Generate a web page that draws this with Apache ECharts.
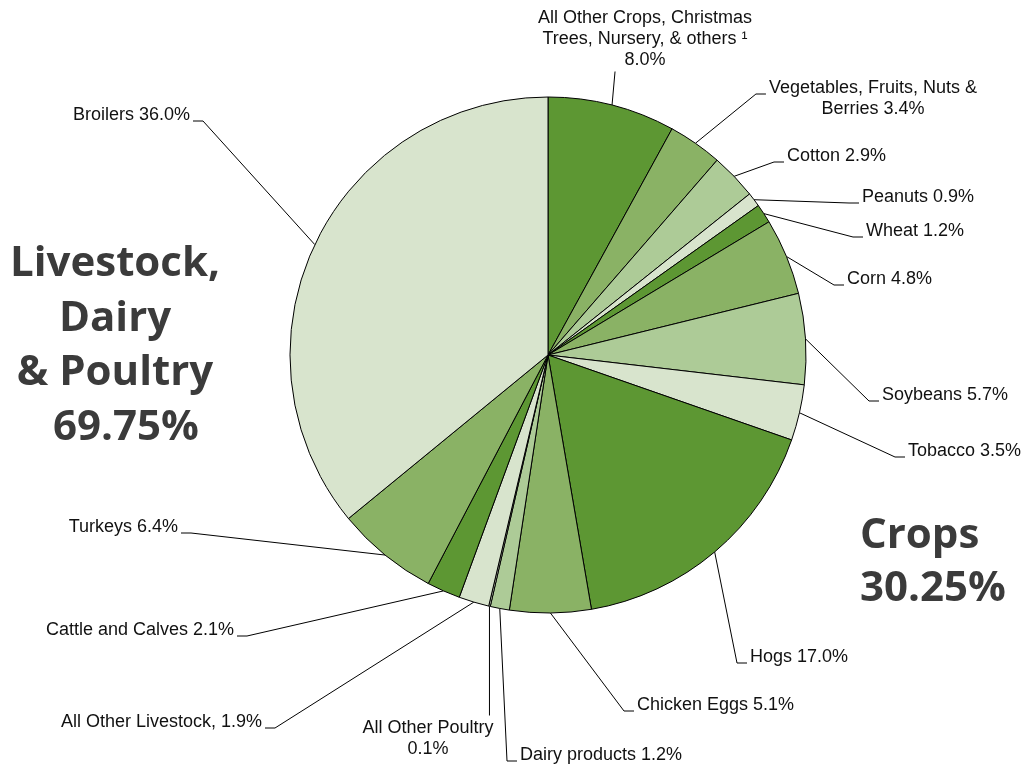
<!DOCTYPE html>
<html><head><meta charset="utf-8">
<script src="https://cdn.jsdelivr.net/npm/echarts@6/dist/echarts.min.js"></script>
<style>html,body{margin:0;padding:0;background:#fff}#c{width:1031px;height:769px}</style>
</head><body><div id="c"></div>
<script>
// ---- data ----
const categories = ['All Other Crops, Christmas Trees, Nursery, & others', 'Vegetables, Fruits, Nuts & Berries', 'Cotton', 'Peanuts', 'Wheat', 'Corn', 'Soybeans', 'Tobacco', 'Hogs', 'Chicken Eggs', 'Dairy products', 'All Other Poultry', 'All Other Livestock', 'Cattle and Calves', 'Turkeys', 'Broilers'];
const shares = [8.0, 3.4, 2.9, 0.9, 1.2, 4.8, 5.7, 3.5, 17.0, 5.1, 1.2, 0.1, 1.9, 2.1, 6.4, 36.0];
const labelTemplates = [
  'All Other Crops, Christmas\nTrees, Nursery, & others \u00b9\n{v}%',
  'Vegetables, Fruits, Nuts &\nBerries {v}%',
  'Cotton {v}%', 'Peanuts {v}%', 'Wheat {v}%', 'Corn {v}%', 'Soybeans {v}%', 'Tobacco {v}%',
  'Hogs {v}%', 'Chicken Eggs {v}%', 'Dairy products {v}%', 'All Other Poultry\n{v}%',
  'All Other Livestock, {v}%', 'Cattle and Calves {v}%', 'Turkeys {v}%', 'Broilers {v}%'
];
const groupNames = ['Livestock,\nDairy\n& Poultry', 'Crops'];
const groupTotals = [69.75, 30.25];

// ---- styles / layout (not data) ----
const shades = ['#5d9733', '#8ab265', '#adcb97', '#d8e4cd'];
const shadeIndex = [0, 1, 2, 3, 0, 1, 2, 3, 0, 1, 2, 3, 3, 0, 1, 3];
// label anchor: x, y = centre of first text line, align, side where leader attaches
const labelPos = [
  {x: 645, y: 18, align: 'center', side: 'bottom'},
  {x: 873, y: 88, align: 'center', side: 'left'},
  {x: 787, y: 156, align: 'left', side: 'left'},
  {x: 862, y: 197, align: 'left', side: 'left'},
  {x: 866, y: 231, align: 'left', side: 'left'},
  {x: 847, y: 279, align: 'left', side: 'left'},
  {x: 882, y: 395, align: 'left', side: 'left'},
  {x: 908, y: 451, align: 'left', side: 'left'},
  {x: 750, y: 657, align: 'left', side: 'left'},
  {x: 637, y: 705, align: 'left', side: 'left'},
  {x: 520, y: 755, align: 'left', side: 'left'},
  {x: 428, y: 728, align: 'center', side: 'top'},
  {x: 262, y: 722, align: 'right', side: 'right'},
  {x: 234, y: 630, align: 'right', side: 'right'},
  {x: 178, y: 527, align: 'right', side: 'right'},
  {x: 190, y: 115, align: 'right', side: 'right'}
];
const LH = 21;

const chart = echarts.init(document.getElementById('c'), null, {renderer: 'canvas'});
const pieData = categories.map((n, i) => ({
  name: n, value: shares[i],
  itemStyle: {color: shades[shadeIndex[i]]}
}));

chart.setOption({
  animation: false,
  backgroundColor: '#fff',
  graphic: [
    {type: 'text', style: {x: 115, y: 237, text: groupNames[0] + '\n  ' + groupTotals[0].toFixed(2) + '%',
      font: 'bold 42px "Open Sans"', align: 'center', verticalAlign: 'top', lineHeight: 54.5, fill: '#3b3b3b'}},
    {type: 'text', style: {x: 860, y: 510, text: groupNames[1] + '\n' + groupTotals[1].toFixed(2) + '%',
      font: 'bold 42px "Open Sans"', align: 'left', verticalAlign: 'top', lineHeight: 52.5, fill: '#3b3b3b'}}
  ],
  series: [{
    type: 'pie',
    center: [548, 355],
    radius: 258,
    startAngle: 90,
    clockwise: true,
    avoidLabelOverlap: false,
    emphasis: {disabled: true},
    itemStyle: {borderColor: '#000', borderWidth: 1},
    label: {
      show: true, position: 'outside', alignTo: 'none',
      fontFamily: '"Liberation Sans", Arial, sans-serif', fontSize: 18, color: '#111',
      lineHeight: LH,
      formatter: p => labelTemplates[p.dataIndex].replace('{v}', p.value.toFixed(1))
    },
    labelLine: {show: true, lineStyle: {color: '#000', width: 1}},
    labelLayout: function (p) {
      const L = labelPos[p.dataIndex];
      const w = p.labelRect.width;
      const nLines = labelTemplates[p.dataIndex].split('\n').length;
      const h = nLines * LH;
      const top = L.y - LH / 2;
      const left = L.align === 'left' ? L.x : (L.align === 'right' ? L.x - w : L.x - w / 2);
      const p0 = p.labelLinePoints ? p.labelLinePoints[0] : [L.x, L.y];
      let end, elbow;
      if (L.side === 'left') {
        const lw = L.align === 'center' ? left : L.x;
        end = [lw - 3, L.y + 6]; elbow = [end[0] - 10, end[1]];
      } else if (L.side === 'right') {
        end = [left + w + 3, L.y + 6]; elbow = [end[0] + 10, end[1]];
      } else if (L.side === 'bottom') {
        end = [p0[0] + 3, top + h + 1]; elbow = end;
      } else {
        end = [p0[0], top - 2]; elbow = end;
      }
      return {
        x: L.x, y: top, align: L.align, verticalAlign: 'top',
        labelLinePoints: [p0, elbow, end]
      };
    },
    data: pieData
  }]
});
</script></body></html>
